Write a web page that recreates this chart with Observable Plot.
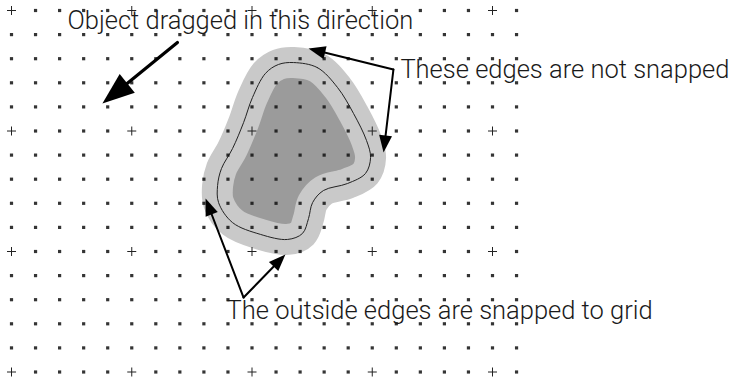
<!DOCTYPE html>
<html><head><meta charset="utf-8">
<script src="https://cdn.jsdelivr.net/npm/d3@7"></script>
<script src="https://cdn.jsdelivr.net/npm/@observablehq/plot@0.6"></script>
<style>html,body{margin:0;padding:0;background:#fff;} svg{display:block}</style>
</head><body><div id="chart"></div>
<script>
// Grid (in grid units)
const gridColumns = 22;
const gridRows = 16;
const crossEvery = 5;

// Blob outline (centre line), grid units
const blobX = [11.73, 12.72, 13.56, 14.22, 14.76, 14.93, 14.72, 13.97, 12.97, 12.52, 12.35, 12.10, 11.48, 10.35, 9.19, 8.61, 8.57, 8.73, 9.19, 9.65, 10.02, 10.56, 11.10];
const blobY = [2.16, 2.37, 3.20, 4.27, 5.39, 6.10, 6.76, 7.18, 7.47, 7.97, 8.63, 9.25, 9.50, 9.29, 8.80, 7.97, 7.26, 6.56, 5.73, 4.65, 3.61, 2.61, 2.24];

// Arrows (grid units)
const arrowFromX = [6.90, 15.88, 15.88, 9.65, 9.65];
const arrowFromY = [1.33, 2.45, 2.45, 11.91, 11.91];
const arrowToX = [3.78, 12.35, 15.47, 8.07, 11.39];
const arrowToY = [3.86, 1.58, 5.89, 7.80, 10.12];
const arrowKind = ["big", "small", "small", "small", "small"];

// Labels
const labelText = ["Object dragged in this direction", "These edges are not snapped", "The outside edges are snapped to grid"];
const labelX = [2.33, 16.17, 8.94];
const labelBaseline = [0.75, 2.78, 12.78];
const labelWidth = [356, 338, 442];

// layout
const W = 743, H = 378;
const ox = 11, sx = 24.05, oy = 10, sy = 24.1;
const fontSize = 25.5;

const gridPts = [];
for (let r = 0; r < gridRows; r++) for (let c = 0; c < gridColumns; c++) {
  gridPts.push({c, r, cross: (r % crossEvery === 0 && c % crossEvery === 0)});
}
const blob = blobX.map((x, i) => ({x, y: blobY[i]}));

const headDims = {big: {L: 32, w: 12, sw: 3.2}, small: {L: 17, w: 6.5, sw: 2}};
const arrows = arrowFromX.map((x1, i) => {
  const x2 = arrowToX[i], y2 = arrowToY[i], y1 = arrowFromY[i];
  const dx = (x2 - x1) * sx, dy = (y2 - y1) * sy;
  const len = Math.hypot(dx, dy);
  const k = headDims[arrowKind[i]];
  const t = (len - k.L * 0.6) / len;
  return {x1, y1, x2, y2, sx2: x1 + (x2 - x1) * t, sy2: y1 + (y2 - y1) * t,
    kind: arrowKind[i], sw: k.sw, rot: Math.atan2(dx, -dy) * 180 / Math.PI};
});

const plusSymbol = {draw(ctx) { const a = 4.5; ctx.moveTo(-a, 0); ctx.lineTo(a, 0); ctx.moveTo(0, -a); ctx.lineTo(0, a); }};
const dotSymbol = {draw(ctx) { const a = 1.6; ctx.moveTo(-a, -a); ctx.lineTo(a, -a); ctx.lineTo(a, a); ctx.lineTo(-a, a); ctx.closePath(); }};
const headSymbol = (L, w) => ({draw(ctx) { ctx.moveTo(0, 0); ctx.lineTo(-w, L); ctx.lineTo(w, L); ctx.closePath(); }});

const labels = labelText.map((t, i) => ({t, x: labelX[i], y: labelBaseline[i], w: labelWidth[i]}));

const chart = Plot.plot({
  width: W, height: H,
  margin: 0,
  x: {domain: [-ox / sx, (W - ox) / sx], axis: null},
  y: {domain: [-oy / sy, (H - oy) / sy], reverse: true, axis: null},
  marks: [
    Plot.line(blob, {x: "x", y: "y", curve: "catmull-rom-closed", fill: "#9b9b9b", stroke: "#c9c9c9", strokeWidth: 31, strokeLinejoin: "round"}),
    Plot.line(blob, {x: "x", y: "y", curve: "catmull-rom-closed", fill: "none", stroke: "#222", strokeWidth: 1}),
    Plot.dot(gridPts.filter(d => !d.cross), {x: "c", y: "r", symbol: dotSymbol, fill: "#111", stroke: "none", fillOpacity: 0.85}),
    Plot.dot(gridPts.filter(d => d.cross), {x: "c", y: "r", symbol: plusSymbol, fill: "none", stroke: "#222", strokeWidth: 1}),
    Plot.link(arrows, {x1: "x1", y1: "y1", x2: "sx2", y2: "sy2", stroke: "#000", strokeWidth: "sw", strokeLinecap: "round", ariaLabel: "arrows"}),
    Plot.dot(arrows.filter(d => d.kind === "big"), {x: "x2", y: "y2", rotate: "rot", symbol: headSymbol(headDims.big.L, headDims.big.w), fill: "#000", stroke: "none", ariaLabel: "arrows"}),
    Plot.dot(arrows.filter(d => d.kind === "small"), {x: "x2", y: "y2", rotate: "rot", symbol: headSymbol(headDims.small.L, headDims.small.w), fill: "#000", stroke: "none", ariaLabel: "arrows"}),
    Plot.text(labels, {x: "x", y: "y", text: "t", textAnchor: "start", lineAnchor: "middle", dy: -0.32 * fontSize, fontSize, fill: "#1a1a1a", fontFamily: "Roboto, 'Liberation Sans', sans-serif", fontWeight: 300, ariaLabel: "labels"})
  ]
});
document.getElementById("chart").appendChild(chart);
const svg = d3.select(chart);
svg.selectAll('g[aria-label="arrows"]').style("filter", "drop-shadow(2px 3px 2px rgba(0,0,0,0.3))");
svg.selectAll('g[aria-label="labels"] text').each(function(d, i) {
  d3.select(this).attr("textLength", labels[i].w).attr("lengthAdjust", "spacingAndGlyphs");
});
</script></body></html>
